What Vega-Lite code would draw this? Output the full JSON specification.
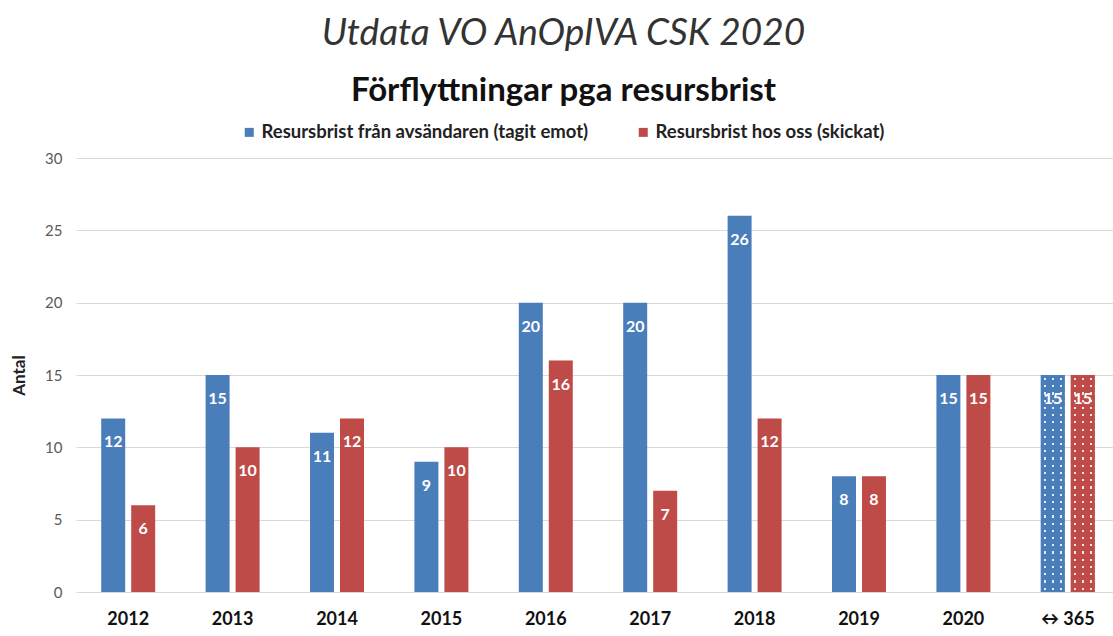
{
  "$schema": "https://vega.github.io/schema/vega-lite/v6.json",
  "width": 1037,
  "height": 434,
  "autosize": {"type": "none"},
  "padding": {"left": 76, "top": 158, "right": 0, "bottom": 44},
  "background": "white",
  "title": {
    "text": "Utdata VO AnOpIVA CSK 2020",
    "subtitle": "Förflyttningar pga resursbrist",
    "anchor": "middle",
    "frame": "group",
    "dx": -31,
    "font": "Lato",
    "fontSize": 37,
    "fontStyle": "italic",
    "fontWeight": "normal",
    "color": "#333333",
    "subtitleFont": "Lato",
    "subtitleFontSize": 33,
    "subtitleFontWeight": "bold",
    "subtitleColor": "#111111",
    "subtitlePadding": 22,
    "offset": 14
  },
  "data": {
    "values": [
      {"year": "2012", "series": "Resursbrist från avsändaren (tagit emot)", "value": 12},
      {"year": "2012", "series": "Resursbrist hos oss (skickat)", "value": 6},
      {"year": "2013", "series": "Resursbrist från avsändaren (tagit emot)", "value": 15},
      {"year": "2013", "series": "Resursbrist hos oss (skickat)", "value": 10},
      {"year": "2014", "series": "Resursbrist från avsändaren (tagit emot)", "value": 11},
      {"year": "2014", "series": "Resursbrist hos oss (skickat)", "value": 12},
      {"year": "2015", "series": "Resursbrist från avsändaren (tagit emot)", "value": 9},
      {"year": "2015", "series": "Resursbrist hos oss (skickat)", "value": 10},
      {"year": "2016", "series": "Resursbrist från avsändaren (tagit emot)", "value": 20},
      {"year": "2016", "series": "Resursbrist hos oss (skickat)", "value": 16},
      {"year": "2017", "series": "Resursbrist från avsändaren (tagit emot)", "value": 20},
      {"year": "2017", "series": "Resursbrist hos oss (skickat)", "value": 7},
      {"year": "2018", "series": "Resursbrist från avsändaren (tagit emot)", "value": 26},
      {"year": "2018", "series": "Resursbrist hos oss (skickat)", "value": 12},
      {"year": "2019", "series": "Resursbrist från avsändaren (tagit emot)", "value": 8},
      {"year": "2019", "series": "Resursbrist hos oss (skickat)", "value": 8},
      {"year": "2020", "series": "Resursbrist från avsändaren (tagit emot)", "value": 15},
      {"year": "2020", "series": "Resursbrist hos oss (skickat)", "value": 15},
      {"year": "↔ 365", "series": "Resursbrist från avsändaren (tagit emot)", "value": 15},
      {"year": "↔ 365", "series": "Resursbrist hos oss (skickat)", "value": 15}
    ]
  },
  "encoding": {
    "x": {
      "field": "year",
      "type": "nominal",
      "sort": ["2012", "2013", "2014", "2015", "2016", "2017", "2018", "2019", "2020", "↔ 365"],
      "scale": {
        "domain": ["2012", "2013", "2014", "2015", "2016", "2017", "2018", "2019", "2020", "↔ 365"],
        "range": [0, 1044],
        "paddingInner": 0.483,
        "paddingOuter": 0.2415
      },
      "axis": {
        "title": null,
        "domain": false,
        "ticks": false,
        "labelAngle": 0,
        "labelFont": "Lato",
        "labelFontSize": 18,
        "labelFontWeight": "bold",
        "labelColor": "#111111",
        "labelPadding": 18
      }
    },
    "xOffset": {
      "field": "series",
      "type": "nominal",
      "scale": {
        "domain": ["Resursbrist från avsändaren (tagit emot)", "Resursbrist hos oss (skickat)"],
        "paddingInner": 0.2,
        "paddingOuter": 0
      }
    },
    "y": {
      "field": "value",
      "type": "quantitative",
      "scale": {"domain": [0, 30]},
      "axis": {
        "title": "Antal",
        "values": [0, 5, 10, 15, 20, 25, 30],
        "domain": false,
        "ticks": false,
        "grid": true,
        "gridColor": "#d9d9d9",
        "labelFont": "Lato",
        "labelFontSize": 15,
        "labelColor": "#595959",
        "labelPadding": 14,
        "titleFont": "Lato",
        "titleFontSize": 17,
        "titleFontWeight": "bold",
        "titleColor": "#222222",
        "titlePadding": 16
      }
    }
  },
  "layer": [
    {
      "mark": {"type": "bar"},
      "encoding": {
        "color": {
          "field": "series",
          "type": "nominal",
          "scale": {
            "domain": ["Resursbrist från avsändaren (tagit emot)", "Resursbrist hos oss (skickat)"],
            "range": ["#4A7EBB", "#BE4B48"]
          },
          "legend": {
            "title": null,
            "orient": "none",
            "legendX": 164,
            "legendY": -35,
            "direction": "horizontal",
            "symbolType": "square",
            "symbolSize": 81,
            "symbolStrokeWidth": 0,
            "labelFont": "Lato",
            "labelFontSize": 18.5,
            "labelFontWeight": "bold",
            "labelColor": "#222222",
            "labelLimit": 600,
            "labelOffset": 3,
            "columnPadding": 45
          }
        }
      }
    },
    {
      "transform": [{"filter": "datum.year === '↔ 365'"}],
      "mark": {
        "type": "bar",
        "fill": {
          "gradient": "linear",
          "x1": 0, "y1": 0, "x2": 0, "y2": 1,
          "stops": [
            {"offset": 0, "color": "rgba(255,255,255,0)"},
            {"offset": 0.0133, "color": "rgba(255,255,255,0)"}, {"offset": 0.0133, "color": "rgba(255,255,255,0.85)"}, {"offset": 0.0233, "color": "rgba(255,255,255,0.85)"}, {"offset": 0.0233, "color": "rgba(255,255,255,0)"},
            {"offset": 0.0467, "color": "rgba(255,255,255,0)"}, {"offset": 0.0467, "color": "rgba(255,255,255,0.85)"}, {"offset": 0.0567, "color": "rgba(255,255,255,0.85)"}, {"offset": 0.0567, "color": "rgba(255,255,255,0)"},
            {"offset": 0.08, "color": "rgba(255,255,255,0)"}, {"offset": 0.08, "color": "rgba(255,255,255,0.85)"}, {"offset": 0.09, "color": "rgba(255,255,255,0.85)"}, {"offset": 0.09, "color": "rgba(255,255,255,0)"},
            {"offset": 0.1133, "color": "rgba(255,255,255,0)"}, {"offset": 0.1133, "color": "rgba(255,255,255,0.85)"}, {"offset": 0.1233, "color": "rgba(255,255,255,0.85)"}, {"offset": 0.1233, "color": "rgba(255,255,255,0)"},
            {"offset": 0.1467, "color": "rgba(255,255,255,0)"}, {"offset": 0.1467, "color": "rgba(255,255,255,0.85)"}, {"offset": 0.1567, "color": "rgba(255,255,255,0.85)"}, {"offset": 0.1567, "color": "rgba(255,255,255,0)"},
            {"offset": 0.18, "color": "rgba(255,255,255,0)"}, {"offset": 0.18, "color": "rgba(255,255,255,0.85)"}, {"offset": 0.19, "color": "rgba(255,255,255,0.85)"}, {"offset": 0.19, "color": "rgba(255,255,255,0)"},
            {"offset": 0.2133, "color": "rgba(255,255,255,0)"}, {"offset": 0.2133, "color": "rgba(255,255,255,0.85)"}, {"offset": 0.2233, "color": "rgba(255,255,255,0.85)"}, {"offset": 0.2233, "color": "rgba(255,255,255,0)"},
            {"offset": 0.2467, "color": "rgba(255,255,255,0)"}, {"offset": 0.2467, "color": "rgba(255,255,255,0.85)"}, {"offset": 0.2567, "color": "rgba(255,255,255,0.85)"}, {"offset": 0.2567, "color": "rgba(255,255,255,0)"},
            {"offset": 0.28, "color": "rgba(255,255,255,0)"}, {"offset": 0.28, "color": "rgba(255,255,255,0.85)"}, {"offset": 0.29, "color": "rgba(255,255,255,0.85)"}, {"offset": 0.29, "color": "rgba(255,255,255,0)"},
            {"offset": 0.3133, "color": "rgba(255,255,255,0)"}, {"offset": 0.3133, "color": "rgba(255,255,255,0.85)"}, {"offset": 0.3233, "color": "rgba(255,255,255,0.85)"}, {"offset": 0.3233, "color": "rgba(255,255,255,0)"},
            {"offset": 0.3467, "color": "rgba(255,255,255,0)"}, {"offset": 0.3467, "color": "rgba(255,255,255,0.85)"}, {"offset": 0.3567, "color": "rgba(255,255,255,0.85)"}, {"offset": 0.3567, "color": "rgba(255,255,255,0)"},
            {"offset": 0.38, "color": "rgba(255,255,255,0)"}, {"offset": 0.38, "color": "rgba(255,255,255,0.85)"}, {"offset": 0.39, "color": "rgba(255,255,255,0.85)"}, {"offset": 0.39, "color": "rgba(255,255,255,0)"},
            {"offset": 0.4133, "color": "rgba(255,255,255,0)"}, {"offset": 0.4133, "color": "rgba(255,255,255,0.85)"}, {"offset": 0.4233, "color": "rgba(255,255,255,0.85)"}, {"offset": 0.4233, "color": "rgba(255,255,255,0)"},
            {"offset": 0.4467, "color": "rgba(255,255,255,0)"}, {"offset": 0.4467, "color": "rgba(255,255,255,0.85)"}, {"offset": 0.4567, "color": "rgba(255,255,255,0.85)"}, {"offset": 0.4567, "color": "rgba(255,255,255,0)"},
            {"offset": 0.48, "color": "rgba(255,255,255,0)"}, {"offset": 0.48, "color": "rgba(255,255,255,0.85)"}, {"offset": 0.49, "color": "rgba(255,255,255,0.85)"}, {"offset": 0.49, "color": "rgba(255,255,255,0)"},
            {"offset": 0.5133, "color": "rgba(255,255,255,0)"}, {"offset": 0.5133, "color": "rgba(255,255,255,0.85)"}, {"offset": 0.5233, "color": "rgba(255,255,255,0.85)"}, {"offset": 0.5233, "color": "rgba(255,255,255,0)"},
            {"offset": 0.5467, "color": "rgba(255,255,255,0)"}, {"offset": 0.5467, "color": "rgba(255,255,255,0.85)"}, {"offset": 0.5567, "color": "rgba(255,255,255,0.85)"}, {"offset": 0.5567, "color": "rgba(255,255,255,0)"},
            {"offset": 0.58, "color": "rgba(255,255,255,0)"}, {"offset": 0.58, "color": "rgba(255,255,255,0.85)"}, {"offset": 0.59, "color": "rgba(255,255,255,0.85)"}, {"offset": 0.59, "color": "rgba(255,255,255,0)"},
            {"offset": 0.6133, "color": "rgba(255,255,255,0)"}, {"offset": 0.6133, "color": "rgba(255,255,255,0.85)"}, {"offset": 0.6233, "color": "rgba(255,255,255,0.85)"}, {"offset": 0.6233, "color": "rgba(255,255,255,0)"},
            {"offset": 0.6467, "color": "rgba(255,255,255,0)"}, {"offset": 0.6467, "color": "rgba(255,255,255,0.85)"}, {"offset": 0.6567, "color": "rgba(255,255,255,0.85)"}, {"offset": 0.6567, "color": "rgba(255,255,255,0)"},
            {"offset": 0.68, "color": "rgba(255,255,255,0)"}, {"offset": 0.68, "color": "rgba(255,255,255,0.85)"}, {"offset": 0.69, "color": "rgba(255,255,255,0.85)"}, {"offset": 0.69, "color": "rgba(255,255,255,0)"},
            {"offset": 0.7133, "color": "rgba(255,255,255,0)"}, {"offset": 0.7133, "color": "rgba(255,255,255,0.85)"}, {"offset": 0.7233, "color": "rgba(255,255,255,0.85)"}, {"offset": 0.7233, "color": "rgba(255,255,255,0)"},
            {"offset": 0.7467, "color": "rgba(255,255,255,0)"}, {"offset": 0.7467, "color": "rgba(255,255,255,0.85)"}, {"offset": 0.7567, "color": "rgba(255,255,255,0.85)"}, {"offset": 0.7567, "color": "rgba(255,255,255,0)"},
            {"offset": 0.78, "color": "rgba(255,255,255,0)"}, {"offset": 0.78, "color": "rgba(255,255,255,0.85)"}, {"offset": 0.79, "color": "rgba(255,255,255,0.85)"}, {"offset": 0.79, "color": "rgba(255,255,255,0)"},
            {"offset": 0.8133, "color": "rgba(255,255,255,0)"}, {"offset": 0.8133, "color": "rgba(255,255,255,0.85)"}, {"offset": 0.8233, "color": "rgba(255,255,255,0.85)"}, {"offset": 0.8233, "color": "rgba(255,255,255,0)"},
            {"offset": 0.8467, "color": "rgba(255,255,255,0)"}, {"offset": 0.8467, "color": "rgba(255,255,255,0.85)"}, {"offset": 0.8567, "color": "rgba(255,255,255,0.85)"}, {"offset": 0.8567, "color": "rgba(255,255,255,0)"},
            {"offset": 0.88, "color": "rgba(255,255,255,0)"}, {"offset": 0.88, "color": "rgba(255,255,255,0.85)"}, {"offset": 0.89, "color": "rgba(255,255,255,0.85)"}, {"offset": 0.89, "color": "rgba(255,255,255,0)"},
            {"offset": 0.9133, "color": "rgba(255,255,255,0)"}, {"offset": 0.9133, "color": "rgba(255,255,255,0.85)"}, {"offset": 0.9233, "color": "rgba(255,255,255,0.85)"}, {"offset": 0.9233, "color": "rgba(255,255,255,0)"},
            {"offset": 0.9467, "color": "rgba(255,255,255,0)"}, {"offset": 0.9467, "color": "rgba(255,255,255,0.85)"}, {"offset": 0.9567, "color": "rgba(255,255,255,0.85)"}, {"offset": 0.9567, "color": "rgba(255,255,255,0)"},
            {"offset": 0.98, "color": "rgba(255,255,255,0)"}, {"offset": 0.98, "color": "rgba(255,255,255,0.85)"}, {"offset": 0.99, "color": "rgba(255,255,255,0.85)"}, {"offset": 0.99, "color": "rgba(255,255,255,0)"},
            {"offset": 1, "color": "rgba(255,255,255,0)"}
          ]
        }
      }
    },
    {
      "transform": [{"filter": "datum.year === '↔ 365' && datum.series === 'Resursbrist från avsändaren (tagit emot)'"}],
      "mark": {
        "type": "bar",
        "fill": {
          "gradient": "linear",
          "x1": 0, "y1": 0, "x2": 1, "y2": 0,
          "stops": [
            {"offset": 0, "color": "#4A7EBB"}, {"offset": 0.125, "color": "#4A7EBB"},
            {"offset": 0.125, "color": "rgba(74,126,187,0)"}, {"offset": 0.2083, "color": "rgba(74,126,187,0)"},
            {"offset": 0.2083, "color": "#4A7EBB"}, {"offset": 0.4583, "color": "#4A7EBB"},
            {"offset": 0.4583, "color": "rgba(74,126,187,0)"}, {"offset": 0.5417, "color": "rgba(74,126,187,0)"},
            {"offset": 0.5417, "color": "#4A7EBB"}, {"offset": 0.7917, "color": "#4A7EBB"},
            {"offset": 0.7917, "color": "rgba(74,126,187,0)"}, {"offset": 0.875, "color": "rgba(74,126,187,0)"},
            {"offset": 0.875, "color": "#4A7EBB"}, {"offset": 1, "color": "#4A7EBB"}
          ]
        }
      }
    },
    {
      "transform": [{"filter": "datum.year === '↔ 365' && datum.series === 'Resursbrist hos oss (skickat)'"}],
      "mark": {
        "type": "bar",
        "fill": {
          "gradient": "linear",
          "x1": 0, "y1": 0, "x2": 1, "y2": 0,
          "stops": [
            {"offset": 0, "color": "#BE4B48"}, {"offset": 0.125, "color": "#BE4B48"},
            {"offset": 0.125, "color": "rgba(190,75,72,0)"}, {"offset": 0.2083, "color": "rgba(190,75,72,0)"},
            {"offset": 0.2083, "color": "#BE4B48"}, {"offset": 0.4583, "color": "#BE4B48"},
            {"offset": 0.4583, "color": "rgba(190,75,72,0)"}, {"offset": 0.5417, "color": "rgba(190,75,72,0)"},
            {"offset": 0.5417, "color": "#BE4B48"}, {"offset": 0.7917, "color": "#BE4B48"},
            {"offset": 0.7917, "color": "rgba(190,75,72,0)"}, {"offset": 0.875, "color": "rgba(190,75,72,0)"},
            {"offset": 0.875, "color": "#BE4B48"}, {"offset": 1, "color": "#BE4B48"}
          ]
        }
      }
    },
    {
      "mark": {
        "type": "text",
        "baseline": "middle",
        "align": "center",
        "dy": 24,
        "fill": "white",
        "font": "Lato",
        "fontSize": 16,
        "fontWeight": "bold"
      },
      "encoding": {
        "text": {"field": "value", "type": "quantitative"}
      }
    }
  ],
  "config": {
    "view": {"stroke": null},
    "font": "Lato"
  }
}
